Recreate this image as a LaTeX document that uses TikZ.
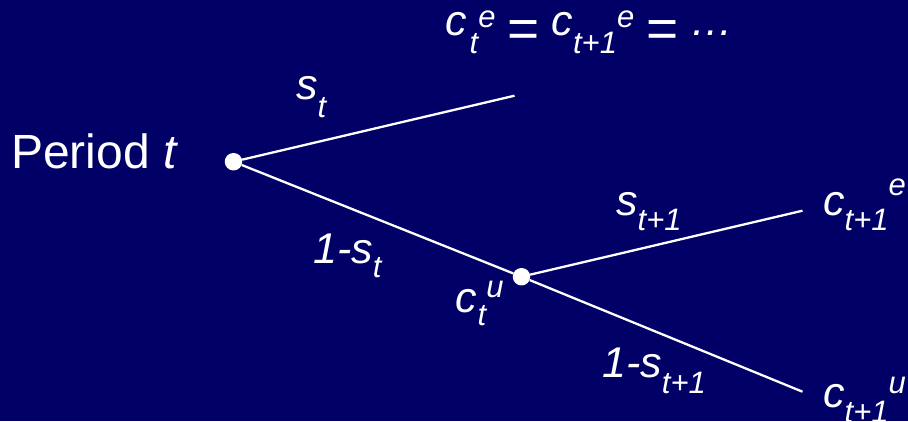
\documentclass[tikz,border=0pt]{standalone}
\usepackage{fontspec}
\setmainfont{Liberation Sans}
\usepackage{graphicx}
\definecolor{bg}{RGB}{0,0,102}
\newcommand\dn[2]{\raisebox{-#1pt}{\fontsize{31}{31}\selectfont #2}}
\newcommand\up[2]{\raisebox{#1pt}{\fontsize{31}{31}\selectfont #2}}
\newcommand\eqs{\raisebox{-12pt}{\fontsize{55}{55}\selectfont\upshape =}}
\begin{document}
\begin{tikzpicture}[x=1pt,y=-1pt,
  lbl/.style={text=white,anchor=base west,inner sep=0pt,font=\fontsize{43}{43}\selectfont\itshape},
  dot/.style={circle,fill=white,inner sep=0pt,minimum size=17.5pt},
  branch/.style={draw=white,line width=2.3pt}]
\fill[bg] (0,0) rectangle (908,421);
\clip (0,0) rectangle (908,421);
\node[dot] (A) at (233.5,161.7) {};
\node[dot] (B) at (521.5,276.7) {};
\coordinate (E1) at (514.5,95.7);
\coordinate (E2) at (802.5,210.7);
\coordinate (E3) at (802.5,391.7);
\draw[branch] (A) -- (E1);
\draw[branch] (A) -- (B);
\draw[branch] (B) -- (E2);
\draw[branch] (B) -- (E3);
\node[lbl,font=\fontsize{48}{48}\selectfont] (period) at (11,168) {Period \textit{t}};
\node[lbl] (top) at (445,35) {c\kern3pt\dn{18}{t}\up{8}{e} \eqs{} c\dn{18}{t+1}\up{8}{e} \eqs{} …};
\node[lbl] (st) at (296,99) {s\dn{18}{t}};
\node[lbl] (lst) at (313,263) {1-s\dn{14}{t}};
\node[lbl] (ctu) at (455,312) {c\kern1pt\dn{13}{t}\up{15}{u}};
\node[lbl] (st1) at (616,215) {s\dn{15}{t+1}};
\node[lbl] (lst1) at (602,377) {1-s\dn{16}{t+1}};
\node[lbl] (ct1e) at (823,215) {c\dn{15}{t+1}\up{20}{e}};
\node[lbl] (ct1u) at (823,407) {c\dn{15}{t+1}\up{14}{u}};
\end{tikzpicture}
\end{document}
